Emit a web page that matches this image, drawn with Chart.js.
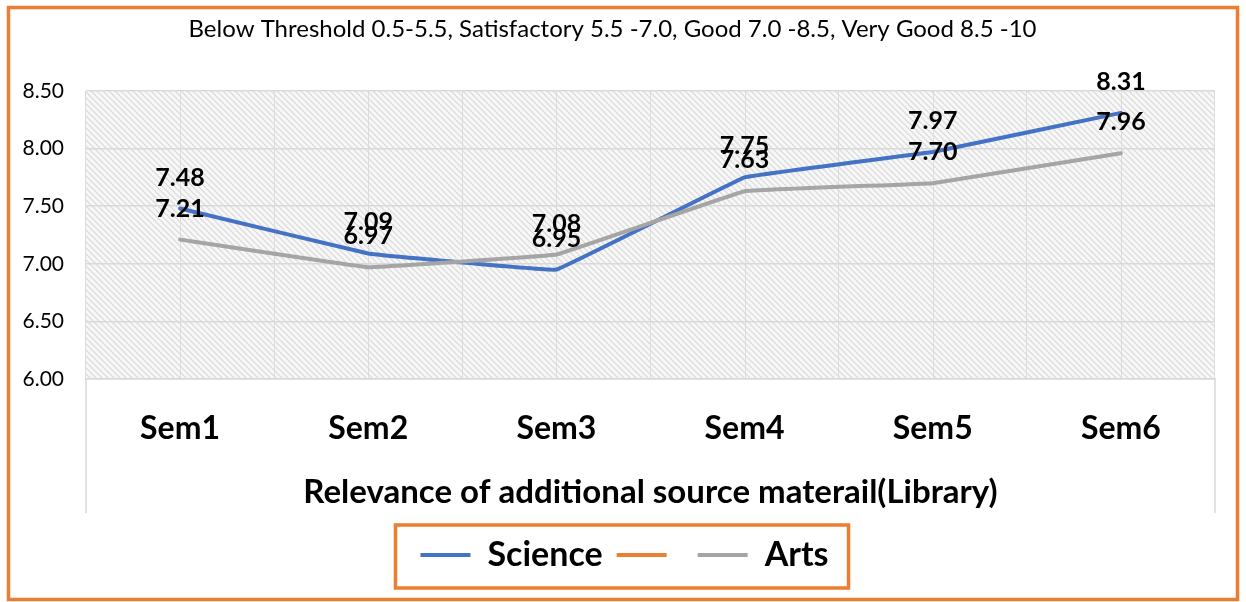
<!DOCTYPE html>
<html>
<head>
<meta charset="utf-8">
<title>Relevance of additional source materail(Library)</title>
<script src="https://cdn.jsdelivr.net/npm/chart.js@4.4.1/dist/chart.umd.min.js"></script>
<style>
  html, body { margin: 0; padding: 0; background: #fff; }
  #wrap { width: 1246px; height: 602px; position: relative; }
</style>
</head>
<body>
<div id="wrap"><canvas id="c"></canvas></div>
<script>
// data
const categories = ["Sem1", "Sem2", "Sem3", "Sem4", "Sem5", "Sem6"];
const science = [7.48, 7.09, 6.95, 7.75, 7.97, 8.31];
const unnamed = [null, null, null, null, null, null];
const arts = [7.21, 6.97, 7.08, 7.63, 7.70, 7.96];
const yTicks = [6.0, 6.5, 7.0, 7.5, 8.0, 8.5];

const FONT = "Lato, 'Open Sans', sans-serif";
const ORANGE = "#ED7D31";

// hatched plot background
function hatch() {
  const t = document.createElement("canvas");
  t.width = 6; t.height = 6;
  const g = t.getContext("2d");
  g.fillStyle = "#f8f8f8";
  g.fillRect(0, 0, 6, 6);
  g.strokeStyle = "#dcdcdc";
  g.lineWidth = 1.3;
  g.beginPath();
  g.moveTo(-1, -1); g.lineTo(7, 7);
  g.moveTo(-1, 5); g.lineTo(1, 7);
  g.moveTo(5, -1); g.lineTo(7, 1);
  g.stroke();
  return g.createPattern(t, "repeat");
}

const bgPlugin = {
  id: "bg",
  // legend sits a bit right of centre in the original
  afterLayout(chart) {
    chart.legend.left += 12;
    chart.legend.right += 12;
  },
  beforeDraw(chart) {
    const { ctx, chartArea: a } = chart;
    ctx.save();
    ctx.fillStyle = hatch();
    ctx.fillRect(a.left, a.top, a.right - a.left, a.bottom - a.top);
    // faint lines at category centres
    const x = chart.scales.x;
    ctx.strokeStyle = "rgba(215,215,215,0.8)";
    ctx.lineWidth = 1;
    categories.forEach((c, i) => {
      const px = Math.round(x.getPixelForValue(i)) + 0.5;
      ctx.beginPath(); ctx.moveTo(px, a.top); ctx.lineTo(px, a.bottom); ctx.stroke();
    });
    ctx.restore();
  },
  afterDraw(chart) {
    const { ctx, chartArea: a } = chart;
    ctx.save();
    // frame lines down the category label area
    ctx.strokeStyle = "#d9d9d9";
    ctx.lineWidth = 1.5;
    ctx.beginPath();
    ctx.moveTo(a.left, a.bottom); ctx.lineTo(a.left, a.bottom + 134);
    ctx.moveTo(a.right, a.bottom); ctx.lineTo(a.right, a.bottom + 134);
    ctx.stroke();
    // box round the legend
    const hb = chart.legend.legendHitBoxes;
    const l = hb[0].left - 25, r = hb[hb.length - 1].left + hb[hb.length - 1].width + 20;
    ctx.strokeStyle = ORANGE;
    ctx.lineWidth = 3.5;
    ctx.strokeRect(l, 525, r - l, 63);
    // outer border
    ctx.strokeRect(8.5, 7.5, 1229, 592);
    ctx.restore();
  }
};

// value labels above each point
const labelPlugin = {
  id: "vals",
  afterDatasetsDraw(chart) {
    const ctx = chart.ctx;
    ctx.save();
    ctx.font = "bold 25px " + FONT;
    ctx.fillStyle = "#000";
    ctx.textAlign = "center";
    ctx.textBaseline = "middle";
    chart.data.datasets.forEach((ds, di) => {
      const meta = chart.getDatasetMeta(di);
      meta.data.forEach((pt, i) => {
        const v = ds.data[i];
        if (v == null) return;
        ctx.fillText(v.toFixed(2), pt.x, pt.y - 31);
      });
    });
    ctx.restore();
  }
};

new Chart(document.getElementById("c").getContext("2d"), {
  type: "line",
  data: {
    labels: categories,
    datasets: [
      { label: "Science", data: science, borderColor: "#4472C4", backgroundColor: "#4472C4", borderWidth: 4, order: 2 },
      { label: "", data: unnamed, borderColor: ORANGE, backgroundColor: ORANGE, borderWidth: 4, order: 1 },
      { label: "Arts", data: arts, borderColor: "#A5A5A5", backgroundColor: "#A5A5A5", borderWidth: 4, order: 0 },
    ],
  },
  options: {
    responsive: true,
    maintainAspectRatio: false,
    animation: false,
    layout: { padding: { left: 10, right: 31, top: 0, bottom: 20 } },
    elements: {
      line: { tension: 0.04, borderCapStyle: "round", borderJoinStyle: "round" },
      point: { radius: 0 },
    },
    plugins: {
      tooltip: { enabled: false },
      title: {
        display: true,
        text: "Below Threshold 0.5-5.5, Satisfactory 5.5 -7.0, Good 7.0 -8.5, Very Good 8.5 -10",
        color: "#000",
        font: { family: FONT, size: 24, weight: "normal", lineHeight: 1.2 },
        padding: { top: 15, bottom: 47.2 },
      },
      legend: {
        position: "bottom",
        labels: {
          usePointStyle: true,
          pointStyle: "line",
          pointStyleWidth: 50,
          color: "#000",
          font: { family: FONT, size: 34, weight: "bold" },
          padding: 14,
          sort: (a, b) => a.datasetIndex - b.datasetIndex,
        },
      },
    },
    scales: {
      x: {
        offset: true,
        grid: { color: "#dcdcdc", lineWidth: 1, drawTicks: false, offset: true },
        border: { color: "#d9d9d9", width: 1.5 },
        ticks: { color: "#000", padding: 30, font: { family: FONT, size: 32, weight: "bold" } },
        title: {
          display: true,
          text: "Relevance of additional source materail(Library)",
          color: "#000",
          font: { family: FONT, size: 33, weight: "bold" },
          padding: { top: 0, bottom: 12 },
        },
        afterFit(s) { s.height = 145; },
      },
      y: {
        min: 6, max: 8.5,
        afterBuildTicks(s) { s.ticks = yTicks.map(v => ({ value: v })); },
        grid: { color: "#d9d9d9", lineWidth: 1.5, drawTicks: false },
        border: { display: false },
        ticks: { color: "#000", padding: 22, font: { family: FONT, size: 21 }, callback: v => v.toFixed(2) },
        afterFit(s) { s.width = 76; },
      },
    },
  },
  plugins: [bgPlugin, labelPlugin],
});
</script>
</body>
</html>
